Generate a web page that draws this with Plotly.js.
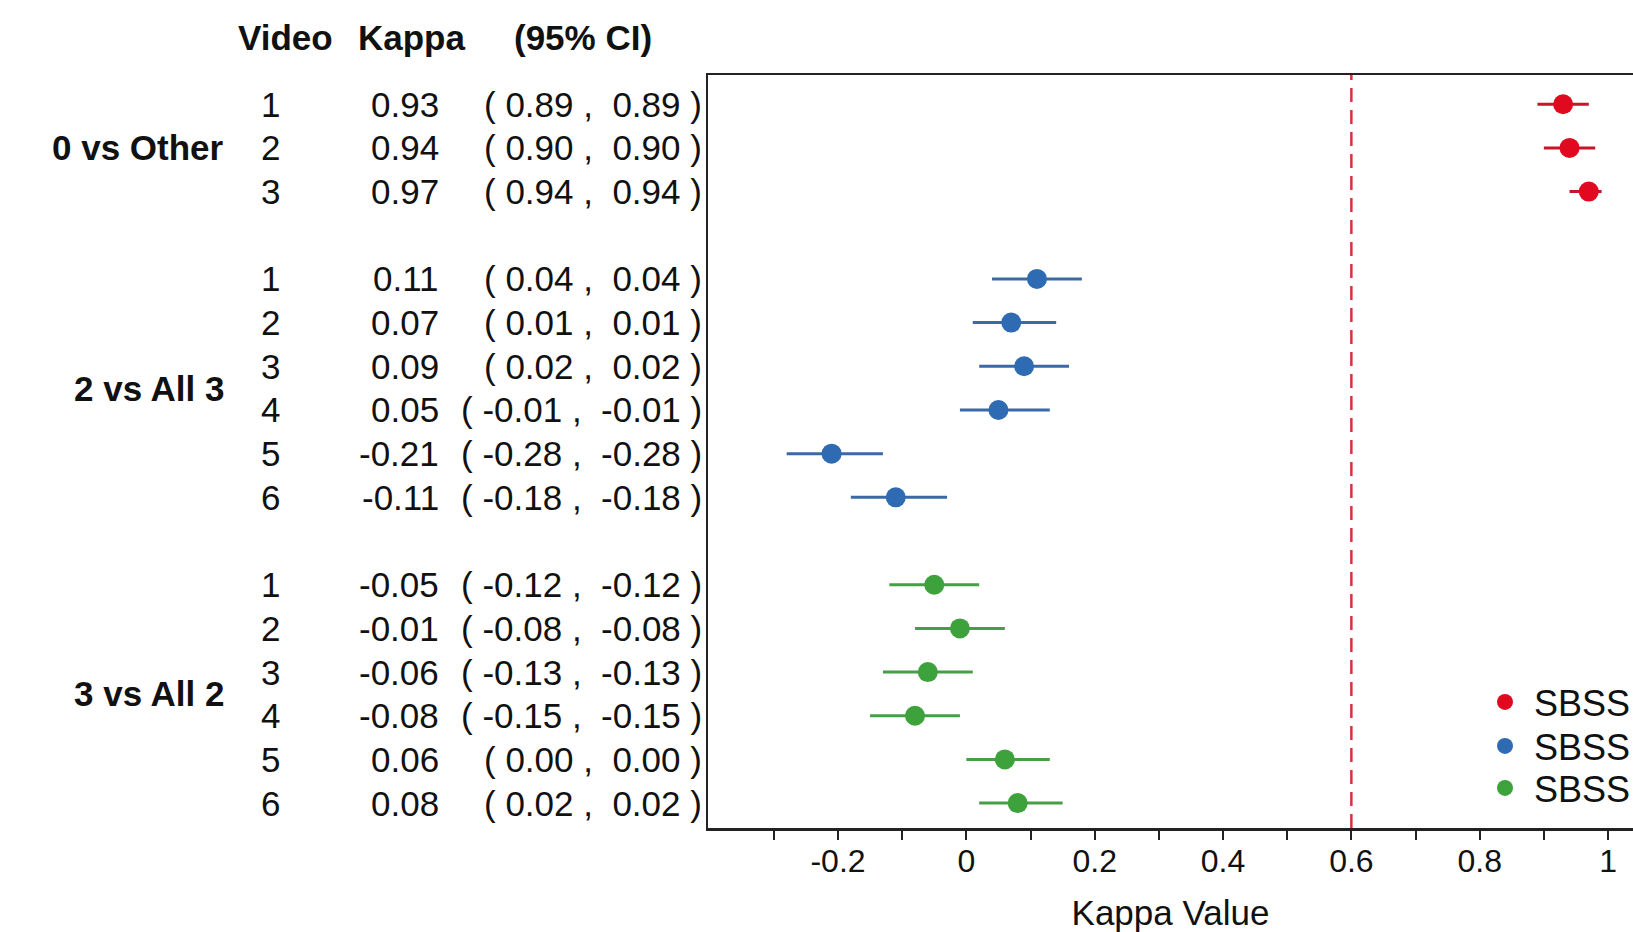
<!DOCTYPE html>
<html>
<head>
<meta charset="utf-8">
<script src="https://cdn.plot.ly/plotly-3.0.1.min.js"></script>
<style>
html, body { margin: 0; padding: 0; background: #fff; overflow: hidden; }
#chart { width: 1633px; height: 932px; }
</style>
</head>
<body>
<div id="chart"></div>
<script>
// ---------------- data ----------------
const groupNames = ["0 vs Other", "2 vs All 3", "3 vs All 2"];
const videosRed = [1, 2, 3];
const videosBlue = [1, 2, 3, 4, 5, 6];
const videosGreen = [1, 2, 3, 4, 5, 6];

const kappaRed = [0.93, 0.94, 0.97];
const lowerRed = [0.89, 0.90, 0.94];
const upperRed = [0.97, 0.98, 0.99];

const kappaBlue = [0.11, 0.07, 0.09, 0.05, -0.21, -0.11];
const lowerBlue = [0.04, 0.01, 0.02, -0.01, -0.28, -0.18];
const upperBlue = [0.18, 0.14, 0.16, 0.13, -0.13, -0.03];

const kappaGreen = [-0.05, -0.01, -0.06, -0.08, 0.06, 0.08];
const lowerGreen = [-0.12, -0.08, -0.13, -0.15, 0.00, 0.02];
const upperGreen = [0.02, 0.06, 0.01, -0.01, 0.13, 0.15];

const legendNames = ["SBSS", "SBSS", "SBSS"];
const headerLabels = ["Video", "Kappa", "(95% CI)"];
const refLineValue = 0.6;
const xTickVals = [-0.3, -0.2, -0.1, 0, 0.1, 0.2, 0.3, 0.4, 0.5, 0.6, 0.7, 0.8, 0.9, 1.0];
const xTickText = ["", "-0.2", "", "0", "", "0.2", "", "0.4", "", "0.6", "", "0.8", "", "1"];

// ---------------- styling ----------------
const FONT = "Liberation Sans, Arial, Helvetica, sans-serif";
const markerColors = ["#E0091F", "#2E6BB2", "#3DA23C"];
const barColors = ["#C8152A", "#3A69A6", "#479E46"];
const W = 1633, H = 932;
const M = {l: 708, r: 0, t: 75, b: 104, autoexpand: false};
const plotW = W - M.l - M.r;
const plotH = H - M.t - M.b;
const px = p => (p - M.l) / plotW;        // pixel column -> paper x
const py = p => (H - M.b - p) / plotH;    // pixel row -> paper y
const NB = "\u00a0";

const series = [
  {videos: videosRed, kappa: kappaRed, lower: lowerRed, upper: upperRed},
  {videos: videosBlue, kappa: kappaBlue, lower: lowerBlue, upper: upperBlue},
  {videos: videosGreen, kappa: kappaGreen, lower: lowerGreen, upper: upperGreen}
];
const legendIds = ["legend", "legend2", "legend3"];
const legendRowsPx = [702, 746, 788];

const traces = [];
const annotations = [];
let rowStart = 0;
const txt = {family: FONT, size: 35, color: "#111"};
const bold = {family: FONT, size: 35, color: "#111", weight: 700};

series.forEach((s, g) => {
  const rows = s.videos.map((v, i) => rowStart + i);
  traces.push({
    type: "scatter",
    mode: "markers",
    name: legendNames[g],
    legend: legendIds[g],
    x: s.kappa,
    y: rows,
    marker: {color: markerColors[g], size: 20},
    error_x: {
      type: "data", symmetric: false,
      array: s.upper.map((u, i) => u - s.kappa[i]),
      arrayminus: s.lower.map((l, i) => s.kappa[i] - l),
      color: barColors[g], thickness: 3, width: 0
    },
    cliponaxis: false,
    hoverinfo: "x+y"
  });
  annotations.push({
    xref: "paper", yref: "y", x: px(226), y: (rows[0] + rows[rows.length - 1]) / 2,
    xanchor: "right", yanchor: "middle", showarrow: false,
    text: "<b>" + groupNames[g] + "</b>", font: bold
  });
  s.videos.forEach((v, i) => {
    const fmt = n => n.toFixed(2);
    annotations.push({xref: "paper", yref: "y", x: px(270), y: rows[i], xanchor: "center", yanchor: "middle",
      showarrow: false, text: String(v), font: txt});
    annotations.push({xref: "paper", yref: "y", x: px(441), y: rows[i], xanchor: "right", yanchor: "middle",
      showarrow: false, text: fmt(s.kappa[i]), font: txt});
    const lo = fmt(s.lower[i]);
    annotations.push({xref: "paper", yref: "y", x: px(704), y: rows[i], xanchor: "right", yanchor: "middle",
      showarrow: false, text: "(" + NB + lo + NB + "," + NB + NB + lo + NB + ")", font: txt});
  });
  rowStart += s.videos.length + 1;
});

const headerX = [285, 412, 583];
headerLabels.forEach((h, i) => {
  annotations.push({xref: "paper", yref: "paper", x: px(headerX[i]), y: py(37),
    xanchor: "center", yanchor: "middle", showarrow: false, text: "<b>" + h + "</b>", font: bold});
});

const legendStyle = i => ({
  x: px(1476), xanchor: "left", y: py(legendRowsPx[i]), yanchor: "middle",
  font: {family: FONT, size: 36, color: "#111"},
  bgcolor: "rgba(255,255,255,0)", borderwidth: 0, itemwidth: 48
});

const layout = {
  width: W, height: H,
  margin: M,
  paper_bgcolor: "#fff", plot_bgcolor: "#fff",
  showlegend: true,
  legend: legendStyle(0),
  legend2: legendStyle(1),
  legend3: legendStyle(2),
  xaxis: {
    range: [-0.4026, 1.0389],
    tickmode: "array", tickvals: xTickVals, ticktext: xTickText,
    ticks: "outside", ticklen: 9, tickwidth: 2, tickcolor: "#222",
    ticklabelstandoff: -6,
    showline: true, linewidth: 2.5, linecolor: "#222", mirror: true,
    showgrid: false, zeroline: false,
    tickfont: {family: FONT, size: 32, color: "#111"},
    title: {text: "Kappa Value", font: {family: FONT, size: 35, color: "#111"}, standoff: 24}
  },
  yaxis: {
    range: [16.57, -0.669],
    showline: true, linewidth: 2.5, linecolor: "#222",
    showticklabels: false, ticks: "", showgrid: false, zeroline: false
  },
  shapes: [{
    type: "line", xref: "x", yref: "paper", x0: refLineValue, x1: refLineValue, y0: 0, y1: 1,
    line: {color: "#D6343F", width: 2.5, dash: "14px,8px"}, layer: "below"
  }],
  annotations: annotations
};

Plotly.newPlot("chart", traces, layout, {displayModeBar: false, staticPlot: true});
</script>
</body>
</html>
